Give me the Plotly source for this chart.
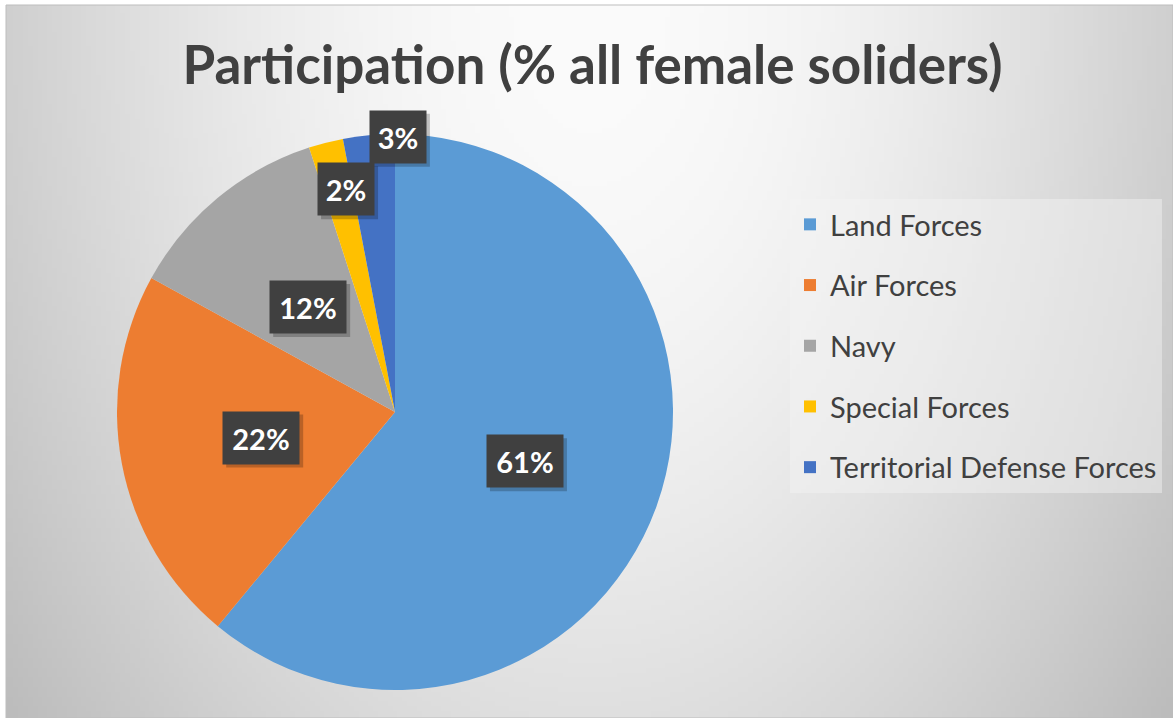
import base64
import struct
import zlib

import numpy as np
import plotly.graph_objects as go

# ---------------- data ----------------
categories = ["Land Forces", "Air Forces", "Navy", "Special Forces", "Territorial Defense Forces"]
values = [61, 22, 12, 2, 3]
colors = ["#5B9BD5", "#ED7D31", "#A5A5A5", "#FFC000", "#4472C4"]
title_text = "Participation (% all female soliders)"

# ---------------- layout constants (pixels) ----------------
W, H = 1173, 718
CX, CY, R = 395, 412, 278          # pie centre / radius in px
label_radius = [0.50, 0.49, 0.49, 0.82, 0.99]   # fraction of radius for label boxes
label_angle_shift = [1, 0, 0, 2, 6]             # degrees (best-fit nudge)
FONT = "Lato"
TXT = "#404040"
BOX_H = 40
PAD = 6


# ---------------- background gradient image ----------------
def png_gray(arr):
    h, w = arr.shape
    raw = b"".join(b"\x00" + arr[i].tobytes() for i in range(h))

    def chunk(t, d):
        return struct.pack(">I", len(d)) + t + d + struct.pack(">I", zlib.crc32(t + d) & 0xFFFFFFFF)

    ihdr = struct.pack(">IIBBBBB", w, h, 8, 0, 0, 0, 0)
    return (b"\x89PNG\r\n\x1a\n" + chunk(b"IHDR", ihdr)
            + chunk(b"IDAT", zlib.compress(raw, 9)) + chunk(b"IEND", b""))


gw, gh = 240, 148
yy, xx = np.mgrid[0:gh, 0:gw]
dx = (xx / (gw - 1) - 0.5) / 0.5
d2 = dx ** 2 + (yy / (gh - 1) / 1.3) ** 2
grad = 251 - 52 * d2 / (1 + 0.2 * d2)
grad = np.clip(grad, 0, 255).astype(np.uint8)
bg_uri = "data:image/png;base64," + base64.b64encode(png_gray(grad)).decode()

fig = go.Figure()

# pie domain in paper coordinates
dom_x = [(CX - R) / W, (CX + R) / W]
dom_y = [1 - (CY + R) / H, 1 - (CY - R) / H]

fig.add_trace(go.Pie(
    labels=categories,
    values=values,
    sort=False,
    direction="clockwise",
    rotation=0,
    marker=dict(colors=colors, line=dict(width=0)),
    textinfo="none",
    showlegend=False,
    domain=dict(x=dom_x, y=dom_y),
    hovertemplate="%{label}: %{value}%<extra></extra>",
))

# legend entries (one group each, so the gap can be set)
for name, col in zip(categories, colors):
    fig.add_trace(go.Scatter(
        x=[None], y=[None], mode="markers", name=name, legendgroup=name,
        marker=dict(symbol="square", size=17, color=col),
        hoverinfo="skip",
    ))

# data labels (dark boxes) computed from the values
total = sum(values)
annotations = []
shapes = [dict(type="rect", xref="paper", yref="paper",
               x0=6 / W, x1=1, y0=0, y1=1 - 5 / H,
               line=dict(color="#bdbdbd", width=1), layer="below")]
cum = 0
for i, v in enumerate(values):
    theta = np.deg2rad(360 * (cum + v / 2) / total + label_angle_shift[i])
    cum += v
    px = CX + label_radius[i] * R * np.sin(theta)
    py = CY - label_radius[i] * R * np.cos(theta)
    txt = f"{v}%"
    wbox = 20 * len(txt) + 4
    fx, fy = px / W, 1 - py / H
    # soft drop shadow behind the label box
    bw, bh = wbox + 2 * PAD, BOX_H + 2 * PAD
    shapes.append(dict(type="rect", xref="paper", yref="paper",
                       xsizemode="pixel", ysizemode="pixel", xanchor=fx, yanchor=fy,
                       x0=-bw / 2 + 3, x1=bw / 2 + 4, y0=-bh / 2 - 4, y1=bh / 2 - 3,
                       fillcolor="rgba(0,0,0,0.22)", line=dict(width=0), layer="above"))
    annotations.append(dict(text=f"<b>{txt}</b>", x=fx, y=fy, xref="paper", yref="paper",
                            showarrow=False, width=wbox, height=BOX_H, borderpad=PAD,
                            xanchor="center", yanchor="middle", bgcolor="#404040",
                            font=dict(family=FONT, size=29, color="white")))

fig.update_layout(
    width=W, height=H,
    margin=dict(l=0, r=0, t=0, b=0),
    paper_bgcolor="white",
    plot_bgcolor="rgba(0,0,0,0)",
    title=dict(text=f"<b>{title_text}</b>", x=592.5 / W, xanchor="center",
               y=1 - 65 / H, yanchor="middle",
               font=dict(family=FONT, size=53, color=TXT)),
    xaxis=dict(visible=False),
    yaxis=dict(visible=False),
    showlegend=True,
    legend=dict(x=790 / W, y=1 - 199 / H, xanchor="left", yanchor="top",
                bgcolor="rgba(245,245,245,0.45)", borderwidth=0,
                font=dict(family=FONT, size=29, color=TXT),
                tracegroupgap=20, itemsizing="constant"),
    images=[dict(source=bg_uri, xref="paper", yref="paper",
                 x=6 / W, y=1 - 5 / H, sizex=1 - 6 / W, sizey=1 - 5 / H,
                 sizing="stretch", layer="below", xanchor="left", yanchor="top")],
    annotations=annotations,
    shapes=shapes,
)

fig.write_html("out.html", config={"displayModeBar": False},
               post_script="document.body.style.margin='0px';")
